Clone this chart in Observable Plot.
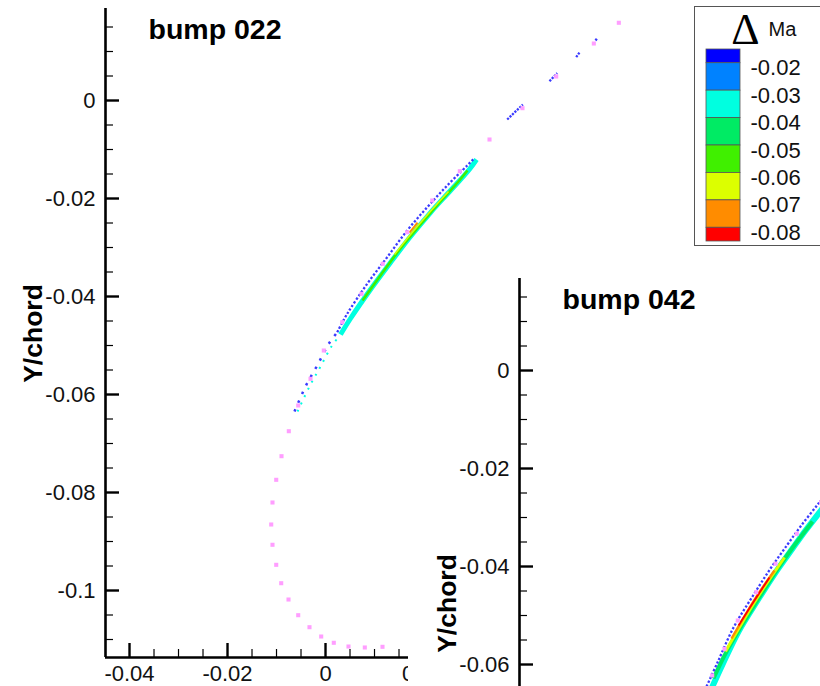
<!DOCTYPE html>
<html><head><meta charset="utf-8">
<script src="https://cdn.jsdelivr.net/npm/d3@7"></script>
<script src="https://cdn.jsdelivr.net/npm/@observablehq/plot@0.6"></script>
<style>
html,body{margin:0;padding:0;overflow:hidden;background:#fff;}
#stage{position:relative;width:820px;height:686px;overflow:hidden;background:#fff;}
#stage svg{position:absolute;max-width:none;}
</style></head><body><div id="stage"></div>
<script>
// ---- axis ticks ----
const yMajor = [0, -0.02, -0.04, -0.06, -0.08, -0.1];
const yMinor = [0.015, 0.01, 0.005, -0.005, -0.01, -0.015, -0.025, -0.03, -0.035, -0.045, -0.05, -0.055,
                -0.065, -0.07, -0.075, -0.085, -0.09, -0.095, -0.105, -0.11];
const xMajor = [-0.04, -0.02, 0, 0.02];
const xMinor = [-0.035, -0.03, -0.025, -0.015, -0.01, -0.005, 0.005, 0.01, 0.015];
const xLeft = -0.0449, yTop = 0.018776;
const yLabel = "Y/chord";
const titles = ["bump 022", "bump 042"];

// ---- legend ----
const legendTitle = ["Δ", "Ma"];
const legendLevels = [-0.02, -0.03, -0.04, -0.05, -0.06, -0.07, -0.08];
const legendEdges = [-0.015, -0.02, -0.03, -0.04, -0.05, -0.06, -0.07, -0.08, -0.085];
const legendColors = ["#0000ff", "#0082ff", "#00ffe0", "#00eb64", "#40f000", "#dcff00", "#ff8c00", "#ff0000"];

// ---- airfoil surface nodes (X/chord, Y/chord) ----
const surface = [
  [0.05986, 0.01586], [0.05476, 0.01163], [0.04708, 0.00490], [0.04020, -0.00157], [0.03347, -0.00796],
  [0.02741, -0.01443], [0.02178, -0.02041], [0.01667, -0.02688], [0.01169, -0.03333], [0.00735, -0.03945],
  [0.00341, -0.04524], [-0.00035, -0.05102], [-0.00306, -0.05680], [-0.00557, -0.06224], [-0.00749, -0.06749],
  [-0.00898, -0.07259], [-0.01006, -0.07741], [-0.01082, -0.08204], [-0.01108, -0.08653], [-0.01082, -0.09067],
  [-0.01006, -0.09476], [-0.00904, -0.09851], [-0.00755, -0.10184], [-0.00557, -0.10504], [-0.00327, -0.10749],
  [-0.00088, -0.10939], [0.00169, -0.11067], [0.00469, -0.11143], [0.00802, -0.11163], [0.01163, -0.11149]
];

// ---- bump 022: dMa contour strip ----
const p1BlueLow = [[-0.00633, -0.06347], [-0.00388, -0.05796], [-0.00169, -0.05408], [0.00067, -0.04965], [0.00239, -0.04729]];
const p1BlueUp = [[0.00239, -0.04729], [0.00443, -0.04353], [0.00851, -0.03741], [0.01259, -0.03198], [0.01667, -0.02653],
  [0.02076, -0.02178], [0.02484, -0.01735], [0.02892, -0.01327], [0.03027, -0.01190]];
const p1BlueBits = [
  {id: "a", pts: [[0.03708, -0.00388], [0.04027, -0.00082]]},
  {id: "b", pts: [[0.04571, 0.00394], [0.04729, 0.00559]]},
  {id: "c", pts: [[0.05116, 0.00884], [0.05184, 0.00980]]},
  {id: "d", pts: [[0.05510, 0.01224], [0.05545, 0.01271]]}
];
const p1CyanLow = [[-0.00571, -0.06347], [-0.00327, -0.05837], [-0.00102, -0.05429], [0.00122, -0.05020], [0.00306, -0.04776]];
const p1CyanUp = [[0.00306, -0.04776], [0.00510, -0.04449], [0.00918, -0.03857], [0.01327, -0.03306], [0.01735, -0.02776],
  [0.02143, -0.02286], [0.02551, -0.01837], [0.02918, -0.01429], [0.03082, -0.01204]];
const p1Green = [[0.00755, -0.04082], [0.01122, -0.03571], [0.01531, -0.03020], [0.01939, -0.02531], [0.02347, -0.02061],
  [0.02714, -0.01653], [0.02898, -0.01429]];
const p1Yellow = [[0.01408, -0.03143], [0.01735, -0.02735], [0.02102, -0.02306], [0.02510, -0.01857]];
const p1Orange = [[0.01714, -0.02694], [0.01878, -0.02490]];

// ---- bump 042: dMa contour strip ----
const p2Blue = [[-0.00673, -0.06449], [-0.00449, -0.05959], [-0.00122, -0.05245], [0.00265, -0.04612], [0.00633, -0.04041],
  [0.00980, -0.03551], [0.01245, -0.03184], [0.01612, -0.02714], [0.01857, -0.02408]];
const p2Cyan = [[-0.00571, -0.06490], [-0.00347, -0.06000], [-0.00020, -0.05327], [0.00367, -0.04694], [0.00735, -0.04122],
  [0.01082, -0.03633], [0.01347, -0.03265], [0.01694, -0.02816], [0.01898, -0.02551]];
const p2Green = [[-0.00531, -0.06286], [-0.00306, -0.05816], [0.00020, -0.05245], [0.00388, -0.04653], [0.00755, -0.04082],
  [0.01102, -0.03592], [0.01490, -0.03082]];
const p2Yellow = [[-0.00286, -0.05735], [0.00020, -0.05204], [0.00367, -0.04633], [0.00694, -0.04143], [0.00918, -0.03816]];
const p2Orange = [[-0.00163, -0.05469], [0.00122, -0.04980], [0.00429, -0.04490], [0.00714, -0.04082]];
const p2Red = [[-0.00020, -0.05204], [0.00265, -0.04755], [0.00612, -0.04224]];

const PX = 4900;            // pixels per chord unit, same on both axes
const ML = 105, MT = 8;
const X = d => d[0], Y = d => d[1];
const FONT = "Liberation Sans, Arial, sans-serif";

function strip(arr, color, width, dash) {
  return Plot.line(arr, {x: X, y: Y, stroke: color, strokeWidth: width, curve: "catmull-rom",
    strokeDasharray: dash || null, strokeLinecap: "butt"});
}

function panel(title, layers, W, H, MB, showX) {
  const innerW = W - ML, innerH = H - MT - MB;
  const xd = [xLeft, xLeft + innerW / PX];
  const yd = [yTop - innerH / PX, yTop];
  const inY = v => v >= yd[0] && v <= yd[1];
  const inX = v => v >= xd[0] && v <= xd[1];
  const marks = [
    ...layers,
    Plot.dot(surface, {x: X, y: Y, symbol: "square", r: 2.3, fill: "#ff9eff"}),
    Plot.ruleX([xd[0]], {stroke: "#000", strokeWidth: 2.6}),
    Plot.tickY(yMajor.filter(inY), {y: d => d, insetRight: innerW - 14, stroke: "#000", strokeWidth: 2.4}),
    Plot.tickY(yMinor.filter(inY), {y: d => d, insetRight: innerW - 8, stroke: "#000", strokeWidth: 1.2}),
    Plot.axisY({ticks: yMajor.filter(inY), tickSize: 0, tickPadding: 10, fontSize: 22, tickFormat: d => String(d), label: null}),
    Plot.text([title], {frameAnchor: "top-left", dx: 43, dy: 30, lineAnchor: "bottom", textAnchor: "start",
      fontSize: 28.5, fontWeight: "bold", fill: "#000"}),
    Plot.text([yLabel], {frameAnchor: "top-left", dx: -82, dy: 325, rotate: -90, textAnchor: "middle",
      fontSize: 26.5, fontWeight: "bold", fill: "#000"})
  ];
  if (showX) {
    marks.push(
      Plot.ruleY([yd[0]], {stroke: "#000", strokeWidth: 2.6}),
      Plot.tickX(xMajor.filter(inX), {x: d => d, insetTop: innerH - 14, stroke: "#000", strokeWidth: 2.4}),
      Plot.tickX(xMinor.filter(inX), {x: d => d, insetTop: innerH - 8, stroke: "#000", strokeWidth: 1.2}),
      Plot.axisX({ticks: xMajor.filter(inX), tickSize: 0, tickPadding: 8, fontSize: 22, tickFormat: d => String(d), label: null})
    );
  } else {
    marks.push(Plot.axisX({ticks: [], label: null, tickSize: 0}));
  }
  return Plot.plot({
    width: W, height: H, marginLeft: ML, marginTop: MT, marginBottom: MB, marginRight: 0,
    x: {domain: xd}, y: {domain: yd},
    style: {fontFamily: FONT, background: "white", color: "#111"},
    marks
  });
}

const stage = document.getElementById("stage");

const p1 = panel(titles[0], [
  strip(p1CyanLow, legendColors[2], 2, "2,6"),
  strip(p1CyanUp, legendColors[2], 5),
  strip(p1Green, legendColors[4], 2.6),
  strip(p1Yellow, legendColors[5], 1.5),
  strip(p1Orange, legendColors[6], 2),
  strip(p1BlueLow, "#3a3aff", 2.5, "2.5,7"),
  strip(p1BlueUp, "#3a3aff", 2.3, "2.3,1.9"),
  ...p1BlueBits.map(b => strip(b.pts, "#3a3aff", 2.3, "2.2,1.2"))
], 820, 686, 29, true);
p1.style.left = "0px"; p1.style.top = "0px";
stage.appendChild(p1);

const cover = document.createElement("div");
Object.assign(cover.style, {position: "absolute", left: "408px", top: "262px", width: "420px", height: "430px", background: "#fff"});
stage.appendChild(cover);

const p2 = panel(titles[1], [
  strip(p2Cyan, legendColors[2], 6),
  strip(p2Green, legendColors[3], 4),
  strip(p2Yellow, legendColors[5], 3),
  strip(p2Orange, legendColors[6], 2.4),
  strip(p2Red, legendColors[7], 1.8),
  strip(p2Blue, "#3a3aff", 2.3, "2.3,1.9")
], 820 - 414, 686 - 270, 0, false);
p2.style.left = "414px"; p2.style.top = "270px";
stage.appendChild(p2);

const bands = legendColors.map((c, i) => ({y1: legendEdges[i], y2: legendEdges[i + 1], fill: c}));
const LW = 125, LH = 238;
const legend = Plot.plot({
  width: LW, height: LH, marginLeft: 11, marginRight: LW - 45, marginTop: 42, marginBottom: LH - 234,
  y: {domain: [legendEdges[legendEdges.length - 1], legendEdges[0]], axis: null},
  style: {fontFamily: FONT, background: "white", color: "#111"},
  marks: [
    Plot.rect(bands, {y1: "y1", y2: "y2", fill: "fill", stroke: "#555", strokeWidth: 0.8}),
    Plot.text(legendLevels, {y: d => d, text: d => String(d), frameAnchor: "right", dx: 10, dy: 5,
      textAnchor: "start", fontSize: 22, fill: "#111"}),
    Plot.text([legendTitle[0]], {frameAnchor: "top-left", dx: 39, dy: -6, textAnchor: "middle", lineAnchor: "bottom",
      fontSize: 44, fontFamily: "Liberation Serif, serif", fill: "#000"}),
    Plot.text([legendTitle[1]], {frameAnchor: "top-left", dx: 62, dy: -14, textAnchor: "start", lineAnchor: "bottom",
      fontSize: 20, fill: "#111"})
  ]
});
Object.assign(legend.style, {left: "694px", top: "6px", border: "1.5px solid #555"});
stage.appendChild(legend);
</script></body></html>
